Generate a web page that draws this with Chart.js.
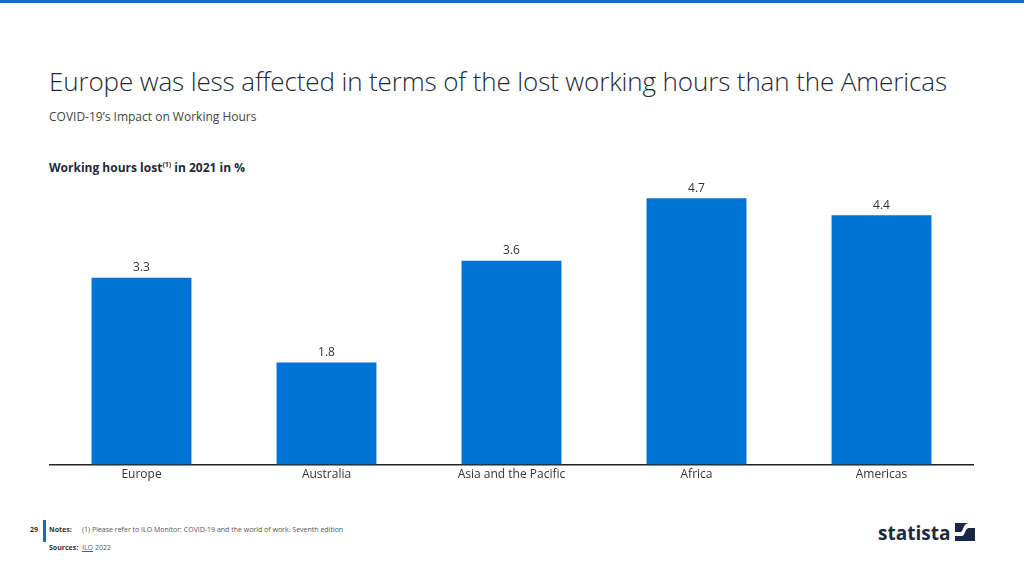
<!DOCTYPE html>
<html>
<head>
<meta charset="utf-8">
<script src="https://cdn.jsdelivr.net/npm/chart.js@4.4.0/dist/chart.umd.min.js"></script>
<style>
  body { margin: 0; width: 1024px; height: 576px; background: #fff; font-family: "Open Sans", sans-serif; position: relative; overflow: hidden; }
  .topbar { position: absolute; left: 0; top: 0; width: 1024px; height: 3px; background: #0f6fc6; }
  .title { position: absolute; left: 49px; top: 63px; font-size: 26px; font-weight: 300; color: #1f2a37; white-space: nowrap; letter-spacing: -0.12px; }
  .subtitle { position: absolute; left: 49px; top: 108px; font-size: 12px; color: #444; }
  .ctitle { position: absolute; left: 49px; top: 159px; font-size: 12px; font-weight: 700; color: #1f2a37; }
  .ctitle sup { font-size: 7px; }
  #wrap { position: absolute; left: 49px; top: 170px; width: 925px; height: 315px; }
  .pg { position: absolute; left: 30px; top: 525px; font-size: 7px; font-weight: 700; color: #333; }
  .vbar { position: absolute; left: 43px; top: 520px; width: 3px; height: 22px; background: #0f6fc6; }
  .note { position: absolute; left: 49px; top: 525px; font-size: 7px; color: #555; }
  .note b { color: #333; display: inline-block; width: 33px; }
  .src { position: absolute; left: 49px; top: 543px; font-size: 7px; color: #555; }
  .src b { color: #333; display: inline-block; width: 33px; }
  .src a { color: #0f6fc6; text-decoration: underline; }
  .logo { position: absolute; left: 878px; top: 520px; font-size: 19px; font-weight: 700; color: #1b2a44; letter-spacing: 0px; }
  .icon { position: absolute; left: 955px; top: 523px; }
</style>
</head>
<body>
<div class="topbar"></div>
<div class="title">Europe was less affected in terms of the lost working hours than the Americas</div>
<div class="subtitle">COVID-19’s Impact on Working Hours</div>
<div class="ctitle">Working hours lost<sup>(1)</sup> in 2021 in %</div>
<div id="wrap"><canvas id="myChart"></canvas></div>
<div class="pg">29</div>
<div class="vbar"></div>
<div class="note"><b>Notes:</b>(1) Please refer to ILO Monitor: COVID-19 and the world of work. Seventh edition</div>
<div class="src"><b>Sources:</b><a>ILO</a> 2022</div>
<div class="logo">statista</div>
<svg class="icon" width="20" height="18" viewBox="0 0 20 18">
  <rect width="20" height="18" fill="#1b2a44"/>
  <path d="M0 13 L7 13 C10 13 10 5 14 5 L20 5 L20 0 L14 0 C8 0 8 9 6 9 L0 9 Z" fill="#fff"/>
</svg>
<script>
var regions = ["Europe", "Australia", "Asia and the Pacific", "Africa", "Americas"];
var hoursLost = [3.3, 1.8, 3.6, 4.7, 4.4];

var valueLabels = {
  id: 'valueLabels',
  afterDatasetsDraw: function(chart) {
    var ctx = chart.ctx;
    var meta = chart.getDatasetMeta(0);
    ctx.save();
    ctx.font = '12px "Open Sans"';
    ctx.fillStyle = '#333';
    ctx.textAlign = 'center';
    ctx.textBaseline = 'bottom';
    meta.data.forEach(function(bar, i) {
      ctx.fillText(hoursLost[i].toFixed(1), bar.x, bar.y - 4);
    });
    ctx.restore();
  }
};

var config = {
  type: 'bar',
  data: {
    labels: regions,
    datasets: [{
      data: hoursLost,
      backgroundColor: '#0073d6',
      barPercentage: 0.54,
      categoryPercentage: 1
    }]
  },
  options: {
    responsive: true,
    maintainAspectRatio: false,
    animation: false,
    layout: { padding: { top: 0, left: 0, right: 0, bottom: 0 } },
    plugins: { legend: { display: false }, tooltip: { enabled: false } },
    scales: {
      x: {
        grid: { display: false, drawTicks: false },
        border: { display: true, color: '#222', width: 1.5 },
        ticks: { color: '#333', font: { family: 'Open Sans', size: 12 }, padding: 3 }
      },
      y: {
        display: false,
        min: 0,
        max: 5.2
      }
    }
  },
  plugins: [valueLabels]
};

var ctx = document.getElementById("myChart").getContext("2d");
var myChart = new Chart(ctx, config);
</script>
</body>
</html>
